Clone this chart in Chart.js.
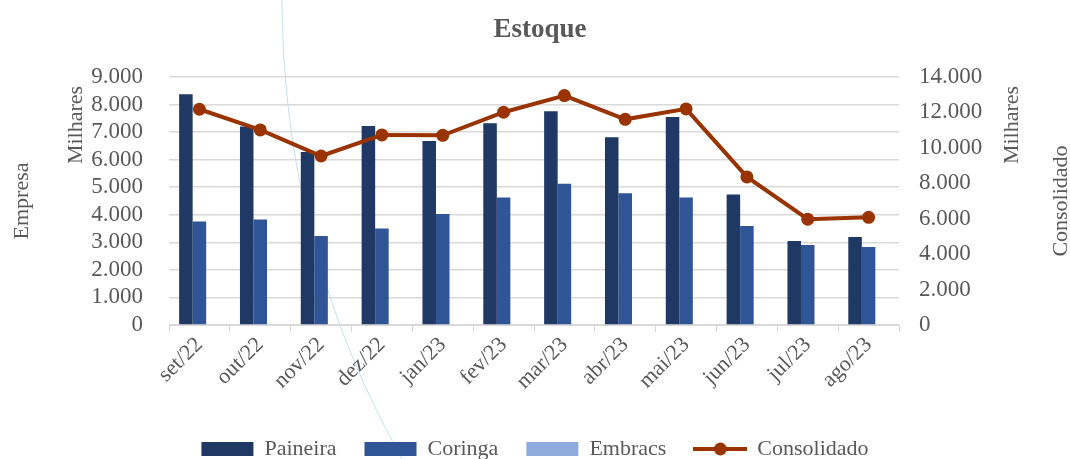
<!DOCTYPE html>
<html>
<head>
<meta charset="utf-8">
<script src="https://cdn.jsdelivr.net/npm/chart.js@4.4.0/dist/chart.umd.min.js"></script>
<style>
  html, body { margin: 0; padding: 0; background: #fff; }
  #wrap { width: 1070px; height: 459px; position: relative; }
</style>
</head>
<body>
<div id="wrap"><canvas id="chart"></canvas></div>
<script>
const months = ['set/22', 'out/22', 'nov/22', 'dez/22', 'jan/23', 'fev/23', 'mar/23', 'abr/23', 'mai/23', 'jun/23', 'jul/23', 'ago/23'];
const paineira = [8370, 7200, 6280, 7220, 6680, 7320, 7760, 6810, 7550, 4740, 3050, 3190];
const coringa = [3760, 3830, 3230, 3500, 4030, 4630, 5130, 4780, 4630, 3590, 2900, 2830];
const embracs = [0, 0, 0, 0, 0, 0, 0, 0, 0, 0, 0, 0];
const consolidado = [12180, 11010, 9540, 10730, 10710, 12010, 12950, 11610, 12200, 8360, 5970, 6080];
const leftMax = 9000, leftStep = 1000;
const rightMax = 14000, rightStep = 2000;

const txt = '#595959';
const serif = "'Liberation Serif', 'DejaVu Serif', serif";
const lineColor = '#993300';

function fmt(v) {
    return String(v).replace(/\B(?=(\d{3})+(?!\d))/g, '.');
}

// legend symbol for the line series: line with a dot
const lineIcon = document.createElement('canvas');
lineIcon.width = 54; lineIcon.height = 16;
(function () {
    const c = lineIcon.getContext('2d');
    c.strokeStyle = lineColor; c.lineWidth = 4;
    c.beginPath(); c.moveTo(0, 8); c.lineTo(54, 8); c.stroke();
    c.fillStyle = lineColor;
    c.beginPath(); c.arc(27, 8, 6.5, 0, Math.PI * 2); c.fill();
})();

const extras = {
    id: 'extras',
    afterLayout(chart) {
        const lg = chart.legend;
        const h = lg.height;
        lg.top = 440 - h / 2;
        lg.bottom = lg.top + h;
    },
    beforeDraw(chart) {
        const ctx = chart.ctx;
        ctx.save();
        // faint decorative arc from the source document
        ctx.strokeStyle = '#c6dfeb';
        ctx.lineWidth = 1;
        ctx.beginPath();
        ctx.moveTo(282, 0);
        ctx.bezierCurveTo(283, 180, 330, 330, 402, 459);
        ctx.stroke();
        ctx.restore();
    },
    afterDraw(chart) {
        const ctx = chart.ctx;
        ctx.save();
        ctx.fillStyle = txt;
        ctx.textAlign = 'center';
        ctx.textBaseline = 'middle';
        ctx.font = 'bold 27px ' + serif;
        ctx.fillText('Estoque', 540, 30);
        ctx.font = '22px ' + serif;
        const vert = (s, x, y) => {
            ctx.save(); ctx.translate(x, y); ctx.rotate(-Math.PI / 2);
            ctx.fillText(s, 0, 0); ctx.restore();
        };
        vert('Milhares', 76, 125);
        vert('Empresa', 22, 201);
        vert('Milhares', 1012, 125);
        vert('Consolidado', 1061, 201);
        ctx.restore();
    }
};

new Chart(document.getElementById('chart'), {
    data: {
        labels: months,
        datasets: [
            { type: 'bar', label: 'Paineira', data: paineira, backgroundColor: '#203864', yAxisID: 'y', order: 1 },
            { type: 'bar', label: 'Coringa', data: coringa, backgroundColor: '#2F5597', yAxisID: 'y', order: 1 },
            { type: 'bar', label: 'Embracs', data: embracs, backgroundColor: '#8FAADC', yAxisID: 'y', order: 1 },
            {
                type: 'line', label: 'Consolidado', data: consolidado, yAxisID: 'y1', order: 0,
                borderColor: lineColor, backgroundColor: lineColor, borderWidth: 4,
                pointRadius: 6.5, pointHoverRadius: 6.5, pointBackgroundColor: lineColor,
                pointBorderWidth: 0, tension: 0
            }
        ]
    },
    options: {
        responsive: true,
        maintainAspectRatio: false,
        animation: false,
        layout: { padding: { top: 77, left: 0, right: 0, bottom: 0 } },
        datasets: { bar: { categoryPercentage: 0.667, barPercentage: 1 } },
        plugins: {
            tooltip: { enabled: false },
            title: { display: false },
            legend: {
                position: 'bottom',
                labels: {
                    color: txt,
                    font: { family: serif, size: 22 },
                    usePointStyle: true,
                    pointStyleWidth: 52,
                    boxHeight: 14,
                    padding: 28,
                    sort: (a, b) => a.datasetIndex - b.datasetIndex,
                    generateLabels(chart) {
                        const items = Chart.defaults.plugins.legend.labels.generateLabels(chart);
                        items.forEach(it => {
                            if (it.datasetIndex === 3) {
                                it.pointStyle = lineIcon;
                            } else {
                                it.pointStyle = 'rect';
                                it.lineWidth = 0;
                            }
                        });
                        return items;
                    }
                }
            }
        },
        scales: {
            x: {
                offset: true,
                grid: { offset: true, drawOnChartArea: false, drawTicks: true, tickLength: 7, color: '#d9d9d9' },
                border: { color: '#d9d9d9' },
                ticks: { color: txt, font: { family: serif, size: 22 }, maxRotation: 45, minRotation: 45, padding: 0, autoSkip: false },
                afterFit(s) { s.height = 459 - 325 - (s.chart.legend ? s.chart.legend.height : 60); }
            },
            y: {
                position: 'left',
                min: 0, max: leftMax,
                grid: { color: '#d9d9d9', lineWidth: 1.5, drawTicks: false },
                border: { display: false },
                ticks: { stepSize: leftStep, autoSkip: false, color: txt, font: { family: serif, size: 23 }, padding: 26, callback: v => fmt(v) },
                afterFit(s) { s.width = 169; }
            },
            y1: {
                position: 'right',
                min: 0, max: rightMax,
                grid: { drawOnChartArea: false, drawTicks: false },
                border: { display: false },
                ticks: { stepSize: rightStep, autoSkip: false, color: txt, font: { family: serif, size: 23 }, padding: 20, callback: v => fmt(v) },
                afterFit(s) { s.width = 171; }
            }
        }
    },
    plugins: [extras]
});
</script>
</body>
</html>
